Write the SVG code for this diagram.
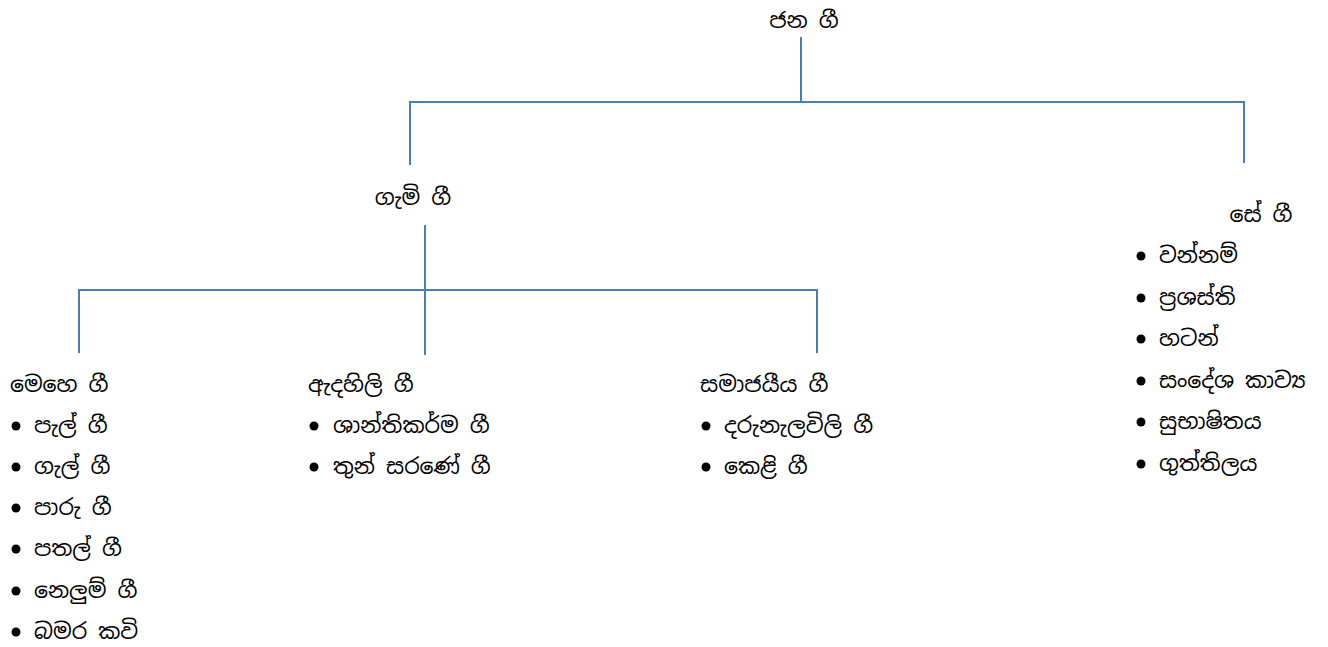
<svg xmlns="http://www.w3.org/2000/svg" width="1328" height="647" viewBox="0 0 1328 647">
<style>
text{font-family:"Noto Sans Sinhala","Noto Sans","DejaVu Sans",sans-serif;font-size:22px;fill:#000}
.c{stroke:#4a7ebb;stroke-width:2;fill:none}
.b{fill:#000}
</style>
<rect width="1328" height="647" fill="#fff"/>
<g id="connectors">
<path class="c" d="M801 37V102M410 165V102H1244V163"/>
<path class="c" d="M425 225V355M79 353V290H817V353"/>
</g>
<g id="jana-gee"><text x="804" y="28" text-anchor="middle">ජන ගී</text></g>
<g id="gami-gee"><text x="413" y="205" text-anchor="middle">ගැමි ගී</text></g>
<g id="se-gee"><text x="1261" y="222" text-anchor="middle">සේ ගී</text>
<g class="b"><circle cx="1141" cy="256" r="4.5"/><circle cx="1141" cy="298" r="4.5"/><circle cx="1141" cy="339" r="4.5"/><circle cx="1141" cy="381" r="4.5"/><circle cx="1141" cy="422" r="4.5"/><circle cx="1141" cy="464" r="4.5"/></g>
<text x="1159" y="263">වන්නම්</text>
<text x="1159" y="305">ප්‍රශස්ති</text>
<text x="1159" y="346">හටන්</text>
<text x="1159" y="388">සංදේශ කාව්‍ය</text>
<text x="1159" y="429">සුභාෂිතය</text>
<text x="1159" y="471">ගුත්තිලය</text>
</g>
<g id="mehe-gee"><text x="10" y="392">මෙහෙ ගී</text>
<g class="b"><circle cx="16" cy="426" r="4.5"/><circle cx="16" cy="467" r="4.5"/><circle cx="16" cy="508" r="4.5"/><circle cx="16" cy="549" r="4.5"/><circle cx="16" cy="591" r="4.5"/><circle cx="16" cy="632" r="4.5"/></g>
<text x="34" y="433">පැල් ගී</text>
<text x="34" y="474">ගැල් ගී</text>
<text x="34" y="515">පාරු ගී</text>
<text x="34" y="556">පතල් ගී</text>
<text x="34" y="598">නෙලුම් ගී</text>
<text x="34" y="639">බමර කවි</text>
</g>
<g id="adahili-gee"><text x="308" y="392">ඇදහිලි ගී</text>
<g class="b"><circle cx="314" cy="426" r="4.5"/><circle cx="314" cy="467" r="4.5"/></g>
<text x="333" y="433">ශාන්තිකර්ම ගී</text>
<text x="333" y="474">තුන් සරණේ ගී</text>
</g>
<g id="samajiya-gee"><text x="700" y="392">සමාජයීය ගී</text>
<g class="b"><circle cx="706" cy="426" r="4.5"/><circle cx="706" cy="467" r="4.5"/></g>
<text x="724" y="433">දරුනැලවිලි ගී</text>
<text x="724" y="474">කෙළි ගී</text>
</g>
</svg>
